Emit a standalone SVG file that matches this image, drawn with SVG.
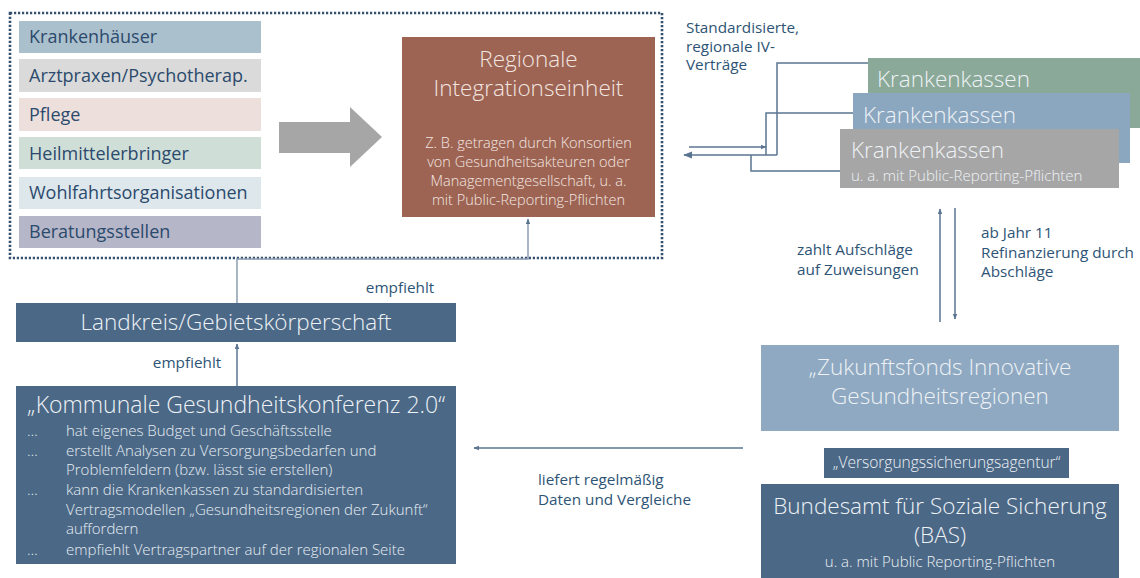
<svg xmlns="http://www.w3.org/2000/svg" width="1140" height="578" viewBox="0 0 1140 578">
<style>
text{font-family:"Open Sans","Noto Sans","Liberation Sans",sans-serif}
.li{font-size:18px;fill:#2b4a6c}
.lbl{font-size:15.3px;fill:#2e5475}
.big{font-size:22.5px;font-weight:300;fill:#eef2f6}
.sm{font-size:15px;font-weight:300;fill:#eef2f6}
.rg{font-size:14.5px;font-weight:300;fill:#f3e6e1}
.bul{font-size:15px;font-weight:300;fill:#e6edf3}
.c{fill:none;stroke:#5b7591;stroke-width:1.5}
</style>
<defs>
<marker id="ah" viewBox="0 0 10 10" refX="9" refY="5" markerWidth="6" markerHeight="6" orient="auto-start-reverse" markerUnits="userSpaceOnUse">
<path d="M0,1 L10,5 L0,9 z" fill="#5b7591"/>
</marker>
<marker id="ah2" viewBox="0 0 10 10" refX="9" refY="5" markerWidth="9" markerHeight="9" orient="auto-start-reverse" markerUnits="userSpaceOnUse">
<path d="M0,1 L10,5 L0,9 z" fill="#5b7591"/>
</marker>
</defs>
<rect width="1140" height="578" fill="#ffffff"/>

<g id="frame">
<rect x="10" y="13" width="652" height="245" fill="none" stroke="#34506e" stroke-width="2.6" stroke-dasharray="2.2 1.8"/>
</g>

<g id="akteure">
<g id="krankenhaeuser"><rect x="19" y="21" width="242" height="32" fill="#abc0cd"/><text class="li" x="29" y="43">Krankenhäuser</text></g>
<g id="arztpraxen"><rect x="19" y="59" width="242" height="33" fill="#dadada"/><text class="li" x="29" y="82">Arztpraxen/Psychotherap.</text></g>
<g id="pflege"><rect x="19" y="98" width="242" height="33" fill="#ede0dc"/><text class="li" x="29" y="121">Pflege</text></g>
<g id="heilmittel"><rect x="19" y="137" width="242" height="32" fill="#d0ded8"/><text class="li" x="29" y="160">Heilmittelerbringer</text></g>
<g id="wohlfahrt"><rect x="19" y="177" width="242" height="32" fill="#dee7ec"/><text class="li" x="29" y="199">Wohlfahrtsorganisationen</text></g>
<g id="beratung"><rect x="19" y="216" width="242" height="32" fill="#b6b6c9"/><text class="li" x="29" y="238">Beratungsstellen</text></g>
</g>

<g id="bigarrow">
<polygon points="279,122 350,122 350,107 382,137 350,167 350,153 279,153" fill="#a6a6a6"/>
</g>

<g id="regional">
<rect x="402" y="37" width="253" height="180" fill="#9d6453"/>
<text class="big" x="528.5" y="67" text-anchor="middle" style="fill:#f3e6e1">Regionale</text>
<text class="big" x="528.5" y="96" text-anchor="middle" style="fill:#f3e6e1">Integrationseinheit</text>
<text class="rg" x="528.5" y="148" text-anchor="middle">Z. B. getragen durch Konsortien</text>
<text class="rg" x="528.5" y="167" text-anchor="middle">von Gesundheitsakteuren oder</text>
<text class="rg" x="528.5" y="186" text-anchor="middle">Managementgesellschaft, u. a.</text>
<text class="rg" x="528.5" y="205" text-anchor="middle">mit Public-Reporting-Pflichten</text>
</g>

<g id="kk-green"><rect x="868" y="58" width="272" height="70" fill="#8aa998"/><text class="big" x="877" y="87">Krankenkassen</text></g>
<g id="kk-blue"><rect x="853" y="93" width="277" height="70" fill="#8ba7c0"/><text class="big" x="863" y="123">Krankenkassen</text></g>
<g id="kk-gray"><rect x="840" y="129" width="279" height="59" fill="#a6a6a6"/><text class="big" x="851" y="158">Krankenkassen</text><text class="sm" x="851" y="181">u. a. mit Public-Reporting-Pflichten</text></g>

<g id="zukunftsfonds">
<rect x="761" y="345" width="358" height="86" fill="#8ea9c1"/>
<text class="big" x="940" y="375" text-anchor="middle">„Zukunftsfonds Innovative</text>
<text class="big" x="940" y="404" text-anchor="middle">Gesundheitsregionen</text>
</g>

<g id="agentur">
<rect x="824" y="448" width="245" height="30" fill="#4b6886"/>
<text class="sm" x="946.5" y="468" text-anchor="middle" style="font-size:15.5px">„Versorgungssicherungsagentur“</text>
</g>

<g id="bas">
<rect x="761" y="484" width="358" height="94" fill="#4b6886"/>
<text class="big" x="940" y="514" text-anchor="middle">Bundesamt für Soziale Sicherung</text>
<text class="big" x="940" y="543" text-anchor="middle">(BAS)</text>
<text class="sm" x="940" y="567" text-anchor="middle">u. a. mit Public Reporting-Pflichten</text>
</g>

<g id="landkreis">
<rect x="16" y="303" width="440" height="39" fill="#4b6886"/>
<text class="big" x="236" y="330" text-anchor="middle">Landkreis/Gebietskörperschaft</text>
</g>

<g id="kommunale">
<rect x="16" y="386" width="440" height="178" fill="#4b6886"/>
<text class="big" x="27" y="413" style="font-size:23px">„Kommunale Gesundheitskonferenz 2.0“</text>
<text class="bul" x="27" y="436">…</text><text class="bul" x="66" y="436">hat eigenes Budget und Geschäftsstelle</text>
<text class="bul" x="27" y="456">…</text><text class="bul" x="66" y="456">erstellt Analysen zu Versorgungsbedarfen und</text>
<text class="bul" x="66" y="475">Problemfeldern (bzw. lässt sie erstellen)</text>
<text class="bul" x="27" y="495">…</text><text class="bul" x="66" y="495">kann die Krankenkassen zu standardisierten</text>
<text class="bul" x="66" y="515">Vertragsmodellen „Gesundheitsregionen der Zukunft“</text>
<text class="bul" x="66" y="534">auffordern</text>
<text class="bul" x="27" y="555">…</text><text class="bul" x="66" y="555">empfiehlt Vertragspartner auf der regionalen Seite</text>
</g>

<g id="connectors">
<path d="M237,303 V259 H528 V219" fill="none" stroke="#8a9db3" stroke-width="1.5" marker-end="url(#ah)"/>
<path class="c" d="M237,386 V344" marker-end="url(#ah)"/>
<path class="c" d="M868,63 H777 V155"/>
<path class="c" d="M853,113 H766 V155"/>
<path class="c" d="M840,171 H751 V155"/>
<path class="c" d="M777,155 H684" stroke-width="2.5" marker-end="url(#ah2)"/>
<path class="c" d="M689,147 H766" marker-end="url(#ah)"/>
<path class="c" d="M940,322 V209" marker-end="url(#ah)"/>
<path class="c" d="M955,208 V319" marker-end="url(#ah)"/>
<path class="c" d="M743,448 H474" marker-end="url(#ah)"/>
</g>

<g id="labels">
<text class="lbl" x="686" y="33">Standardisierte,</text>
<text class="lbl" x="686" y="52">regionale IV-</text>
<text class="lbl" x="686" y="70">Verträge</text>
<text class="lbl" x="797" y="255">zahlt Aufschläge</text>
<text class="lbl" x="797" y="275">auf Zuweisungen</text>
<text class="lbl" x="981" y="238">ab Jahr 11</text>
<text class="lbl" x="981" y="258">Refinanzierung durch</text>
<text class="lbl" x="981" y="277">Abschläge</text>
<text class="lbl" x="400" y="293" text-anchor="middle">empfiehlt</text>
<text class="lbl" x="187" y="368" text-anchor="middle">empfiehlt</text>
<text class="lbl" x="538" y="485">liefert regelmäßig</text>
<text class="lbl" x="538" y="505">Daten und Vergleiche</text>
</g>
</svg>
